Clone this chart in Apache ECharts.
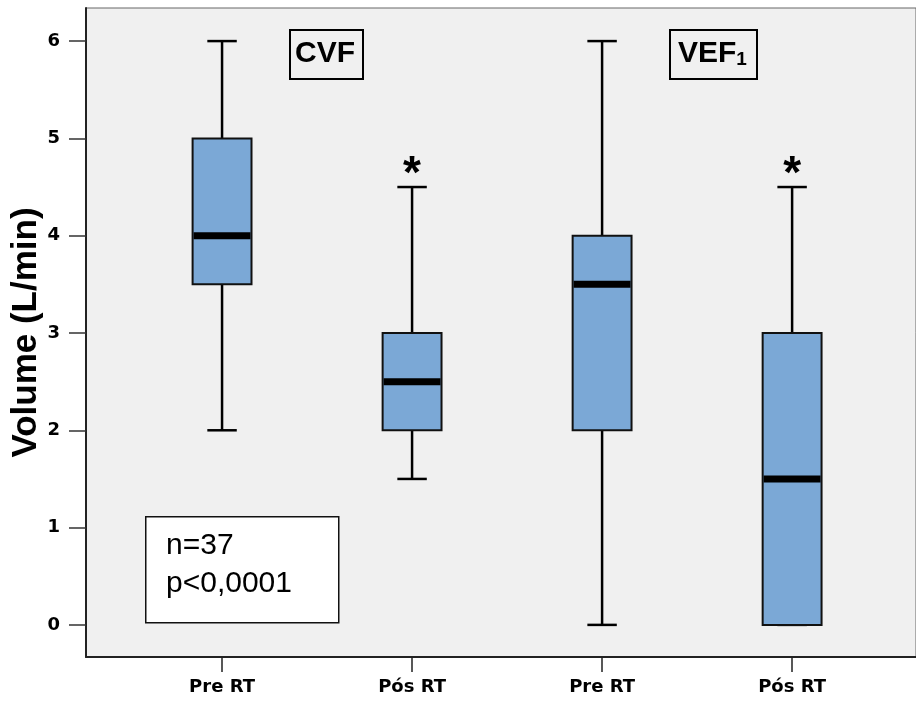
<!DOCTYPE html>
<html>
<head>
<meta charset="utf-8">
<script src="https://cdn.jsdelivr.net/npm/echarts@6/dist/echarts.min.js"></script>
<style>
html,body{margin:0;padding:0;background:#fff;}
#chart{width:916px;height:704px;}
</style>
</head>
<body>
<div id="chart"></div>
<script>
// Data
var positions = [1, 2, 3, 4];
var categories = ['Pre RT', 'Pós RT', 'Pre RT', 'Pós RT'];
// [min, Q1, median, Q3, max]
var boxStats = [
  [2.0, 3.5, 4.0, 5.0, 6.0],
  [1.5, 2.0, 2.5, 3.0, 4.5],
  [0.0, 2.0, 3.5, 4.0, 6.0],
  [0.0, 0.0, 1.5, 3.0, 4.5]
];
var yTicks = [0, 1, 2, 3, 4, 5, 6];
var starPositions = [2, 4];
var starValues = [4.5, 4.5];
var groupLabels = ['CVF', 'VEF'];
var infoLines = ['n=37', 'p<0,0001'];

var boxData = positions.map(function (p, i) { return [p].concat(boxStats[i]); });
var starData = starPositions.map(function (p, i) { return [p, starValues[i]]; });

var chart = echarts.init(document.getElementById('chart'), null, {renderer: 'canvas'});

function renderBox(params, api) {
  var x = api.value(0);
  var lo = api.coord([x, api.value(1)]);
  var q1 = api.coord([x, api.value(2)]);
  var md = api.coord([x, api.value(3)]);
  var q3 = api.coord([x, api.value(4)]);
  var hi = api.coord([x, api.value(5)]);
  var bw = api.size([0.31, 0])[0];
  var cw = api.size([0.155, 0])[0];
  var cx = q1[0];
  var lineStyle = {stroke: '#000', lineWidth: 2.5};
  return {
    type: 'group',
    children: [
      {type: 'line', shape: {x1: cx, y1: q3[1], x2: cx, y2: hi[1]}, style: lineStyle},
      {type: 'line', shape: {x1: cx, y1: q1[1], x2: cx, y2: lo[1]}, style: lineStyle},
      {type: 'line', shape: {x1: cx - cw / 2, y1: hi[1], x2: cx + cw / 2, y2: hi[1]}, style: lineStyle},
      {type: 'line', shape: {x1: cx - cw / 2, y1: lo[1], x2: cx + cw / 2, y2: lo[1]}, style: lineStyle},
      {type: 'rect', shape: {x: cx - bw / 2, y: q3[1], width: bw, height: q1[1] - q3[1]},
        style: {fill: '#7BA8D6', stroke: '#111', lineWidth: 2}},
      {type: 'line', shape: {x1: cx - bw / 2 + 1, y1: md[1], x2: cx + bw / 2 - 1, y2: md[1]},
        style: {stroke: '#000', lineWidth: 7}}
    ]
  };
}

function renderStar(params, api) {
  var p = api.coord([api.value(0), api.value(1)]);
  return {
    type: 'text',
    x: p[0], y: p[1] + 11,
    style: {text: '*', fill: '#000', font: 'bold 46px "Liberation Sans", Arial, sans-serif',
      align: 'center', verticalAlign: 'bottom'}
  };
}

var option = {
  backgroundColor: '#fff',
  animation: false,
  grid: {
    left: 86, top: 8, right: 0, bottom: 47,
    outerBoundsMode: 'none', containLabel: false,
    show: true, backgroundColor: '#F0F0F0', borderColor: '#666', borderWidth: 1
  },
  xAxis: {
    type: 'value',
    min: 0.284, max: 4.652,
    splitLine: {show: false},
    axisLine: {show: true, onZero: false, lineStyle: {color: '#222', width: 2}},
    axisTick: {show: true, length: 15, customValues: positions, lineStyle: {color: '#222', width: 1.5}},
    axisLabel: {
      customValues: positions,
      formatter: function (v) { return categories[Math.round(v) - 1] || ''; },
      color: '#000', fontWeight: 'bold', fontSize: 18,
      fontFamily: '"DejaVu Sans", sans-serif', margin: 21
    }
  },
  yAxis: {
    type: 'value',
    min: -0.33, max: 6.34,
    splitLine: {show: false},
    name: 'Volume (L/min)',
    nameLocation: 'middle',
    nameGap: 42,
    nameMoveOverlap: false,
    nameTextStyle: {color: '#000', fontWeight: 'bold', fontSize: 35,
      fontFamily: '"Liberation Sans", Arial, sans-serif'},
    axisLine: {show: true, onZero: false, lineStyle: {color: '#222', width: 2}},
    axisTick: {show: true, length: 17, customValues: yTicks, lineStyle: {color: '#333', width: 1.5}},
    axisLabel: {
      customValues: yTicks,
      color: '#000', fontWeight: 'bold', fontSize: 18,
      fontFamily: '"DejaVu Sans", sans-serif', margin: 26
    }
  },
  series: [
    {type: 'custom', renderItem: renderBox, data: boxData, encode: {x: 0, y: [1, 2, 3, 4, 5]}, silent: true},
    {type: 'custom', renderItem: renderStar, data: starData, encode: {x: 0, y: 1}, silent: true}
  ],
  graphic: [
    {type: 'rect', left: 289, top: 29, shape: {width: 73, height: 49},
      style: {fill: '#F0F0F0', stroke: '#000', lineWidth: 2}},
    {type: 'text', left: 295, top: 39,
      style: {text: groupLabels[0], font: 'bold 30px "Liberation Sans", Arial, sans-serif', fill: '#000'}},
    {type: 'rect', left: 669, top: 29, shape: {width: 87, height: 49},
      style: {fill: '#F0F0F0', stroke: '#000', lineWidth: 2}},
    {type: 'text', left: 678, top: 39,
      style: {
        text: '{b|' + groupLabels[1] + '}{s|1}',
        rich: {
          b: {font: 'bold 30px "Liberation Sans", Arial, sans-serif', fill: '#000', verticalAlign: 'bottom', lineHeight: 34},
          s: {font: 'bold 19px "Liberation Sans", Arial, sans-serif', fill: '#000', verticalAlign: 'bottom', lineHeight: 26}
        }
      }},
    {type: 'rect', left: 145, top: 516, shape: {width: 193, height: 106},
      style: {fill: '#fff', stroke: '#111', lineWidth: 1.5}},
    {type: 'text', left: 166, top: 527,
      style: {text: infoLines.join('\n'), font: '30px "Liberation Sans", Arial, sans-serif', fill: '#000', lineHeight: 38}}
  ]
};
chart.setOption(option);
</script>
</body>
</html>
